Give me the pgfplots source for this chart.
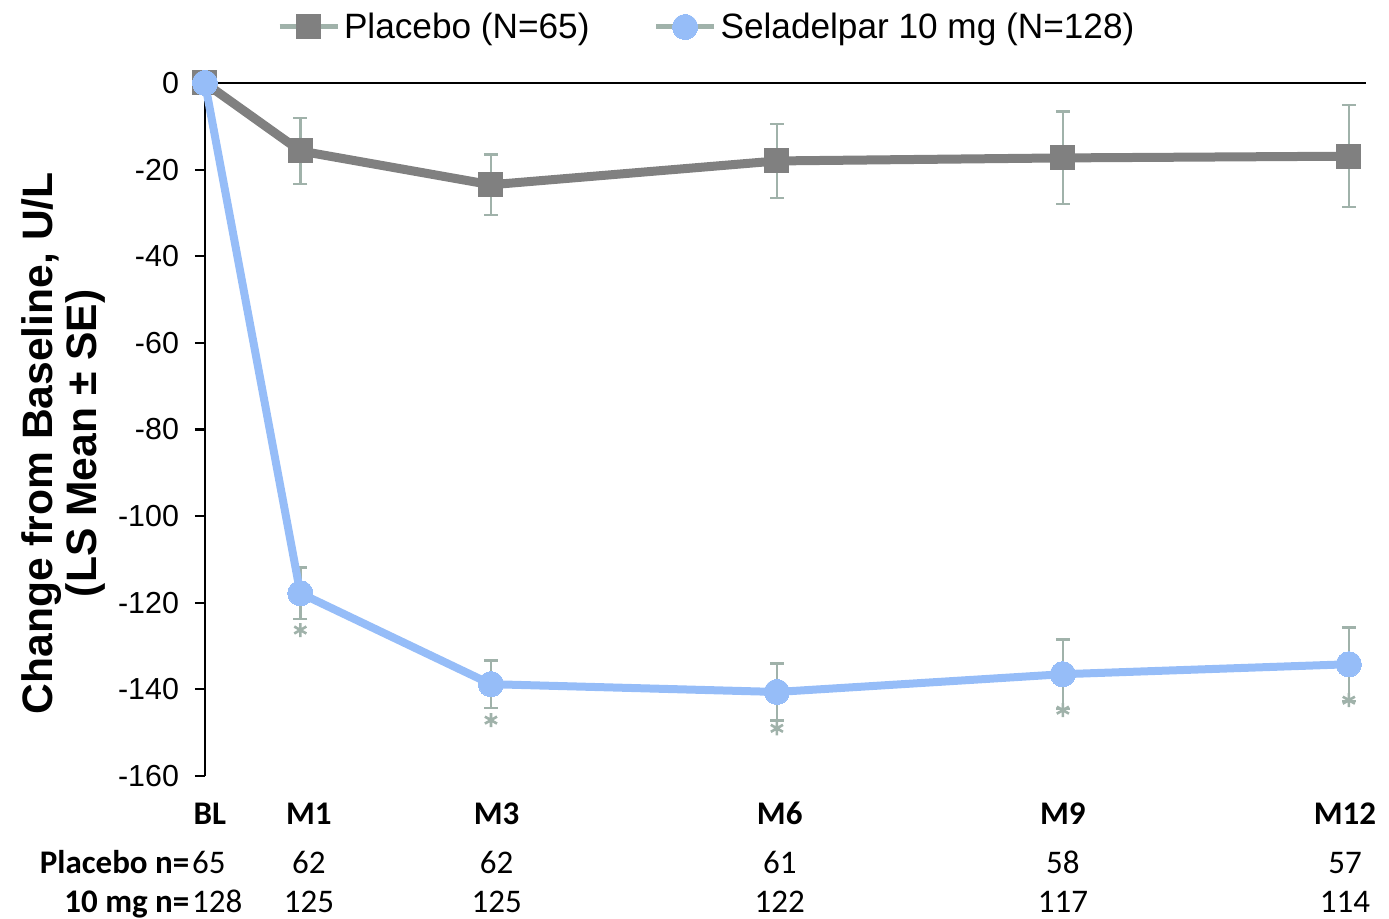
\documentclass[border=0pt]{standalone}
\usepackage{fontspec}
\setmainfont{Liberation Sans}
\newfontfamily\tabfont{Carlito}
\usepackage{pgfplots}
\usepackage{pgfplotstable}
\pgfplotsset{compat=1.18}
\definecolor{pgray}{RGB}{128,128,128}
\definecolor{sblue}{RGB}{150,189,248}
\definecolor{errc}{RGB}{160,178,170}

\pgfplotstableread{
x y e
0 0 0
1 -15.7 7.6
3 -23.5 7.0
6 -18.0 8.5
9 -17.3 10.7
12 -16.9 11.8
}\placebo
\pgfplotstableread{
x y e
0 0 0
1 -117.8 5.9
3 -138.8 5.5
6 -140.6 6.6
9 -136.5 8.0
12 -134.2 8.5
}\selad
\pgfplotstableread{
x y
1 -126.3
3 -147.1
6 -149.0
9 -144.8
12 -142.5
}\stars

\begin{document}
\begin{tikzpicture}
\useasboundingbox (-102.5pt,-71.5pt) rectangle (592pt,388pt);
\begin{axis}[
  scale only axis, width=580.5pt, height=346.5pt,
  xmin=0, xmax=12.18, ymin=-160, ymax=0,
  clip=false,
  axis x line=bottom, axis y line=left,
  axis line style={-, line width=1.1pt},
  x axis line style={draw=none},
  xtick={0,1,3,6,9,12},
  xticklabels={},
  xtick style={draw=none},
  ytick={-160,-140,-120,-100,-80,-60,-40,-20,0},
  yticklabels={-160,-140,-120,-100,-80,-60,-40,-20,0},
  ytick style={line width=1.1pt, black},
  tick align=outside,
  major tick length=5pt,
  yticklabel style={font=\fontsize{15.2}{18}\selectfont, xshift=-4.5pt},
  ylabel={Change from Baseline, U/L\\(LS Mean ± SE)},
  ylabel style={font=\fontsize{21.3}{22}\selectfont\bfseries, align=center, at={(axis description cs:-0.1223,0.48)}, anchor=center},
  legend columns=2,
  legend style={draw=none, fill=none, at={(axis description cs:0.433,1.0808)}, anchor=center,
    font=\fontsize{17.6}{20}\selectfont, column sep=0pt,
    /tikz/every even column/.append style={column sep=30pt}},
  legend cell align=left,
]
% error bars (beneath)
\addplot[draw=none, mark=none, forget plot,
  error bars/.cd, y dir=both, y explicit,
  error bar style={draw=errc, line width=1.2pt},
  error mark options={rotate=90, mark size=3.5pt, draw=errc, line width=1.2pt}]
  table[x=x, y=y, y error=e] {\placebo};
\addplot[draw=none, mark=none, forget plot,
  error bars/.cd, y dir=both, y explicit,
  error bar style={draw=errc, line width=1.2pt},
  error mark options={rotate=90, mark size=3.5pt, draw=errc, line width=1.2pt}]
  table[x=x, y=y, y error=e] {\selad};
% zero line
\addplot[black, line width=1.3pt, forget plot] coordinates {(0,0) (12.18,0)};
% series
\addplot[pgray, line width=4.5pt, mark=square*, mark size=6pt,
  mark options={fill=pgray, draw=pgray, line width=0pt},
  legend image code/.code={
    \draw[errc, line width=2.5pt] (0pt,0pt) -- (29pt,0pt);
    \draw plot[only marks] coordinates {(14.5pt,0pt)};}]
  table[x=x, y=y] {\placebo};
\addlegendentry{Placebo (N=65)}
\addplot[sblue, line width=4pt, mark=*, mark size=6.3pt,
  mark options={fill=sblue, draw=sblue, line width=0pt},
  legend image code/.code={
    \draw[errc, line width=2.5pt] (0pt,0pt) -- (29pt,0pt);
    \draw plot[only marks] coordinates {(14.5pt,0pt)};}]
  table[x=x, y=y] {\selad};
\addlegendentry{Seladelpar 10 mg (N=128)}
% asterisks
\addplot[only marks, mark=asterisk, mark size=3.5pt, forget plot,
  mark options={draw=errc, line width=1.3pt}]
  table[x=x, y=y] {\stars};
% x labels and counts
\begin{scope}[every node/.style={font=\tabfont\fontsize{16.5}{18}\selectfont}]
\node[anchor=base, font=\tabfont\bfseries\fontsize{16.5}{18}\selectfont] at (axis cs:0.05,-171.1) {BL};
\node[anchor=base, font=\tabfont\bfseries\fontsize{16.5}{18}\selectfont] at (axis cs:1.09,-171.1) {M1};
\node[anchor=base, font=\tabfont\bfseries\fontsize{16.5}{18}\selectfont] at (axis cs:3.06,-171.1) {M3};
\node[anchor=base, font=\tabfont\bfseries\fontsize{16.5}{18}\selectfont] at (axis cs:6.03,-171.1) {M6};
\node[anchor=base, font=\tabfont\bfseries\fontsize{16.5}{18}\selectfont] at (axis cs:9,-171.1) {M9};
\node[anchor=base, font=\tabfont\bfseries\fontsize{16.5}{18}\selectfont] at (axis cs:11.96,-171.1) {M12};
\node[anchor=base east, inner xsep=0pt, font=\tabfont\bfseries\fontsize{16.5}{18}\selectfont] at (axis cs:-0.16,-182.6) {Placebo n=};
\node[anchor=base east, inner xsep=0pt, font=\tabfont\bfseries\fontsize{16.5}{18}\selectfont] at (axis cs:-0.16,-191.6) {10 mg n=};
\node[anchor=base west, inner xsep=0pt] at (axis cs:-0.14,-182.6) {65};
\node[anchor=base west, inner xsep=0pt] at (axis cs:-0.14,-191.6) {128};
\node[anchor=base] at (axis cs:1.09,-182.6) {62};
\node[anchor=base] at (axis cs:1.09,-191.6) {125};
\node[anchor=base] at (axis cs:3.06,-182.6) {62};
\node[anchor=base] at (axis cs:3.06,-191.6) {125};
\node[anchor=base] at (axis cs:6.03,-182.6) {61};
\node[anchor=base] at (axis cs:6.03,-191.6) {122};
\node[anchor=base] at (axis cs:9,-182.6) {58};
\node[anchor=base] at (axis cs:9,-191.6) {117};
\node[anchor=base] at (axis cs:11.96,-182.6) {57};
\node[anchor=base] at (axis cs:11.96,-191.6) {114};
\end{scope}
\end{axis}
\end{tikzpicture}
\end{document}
